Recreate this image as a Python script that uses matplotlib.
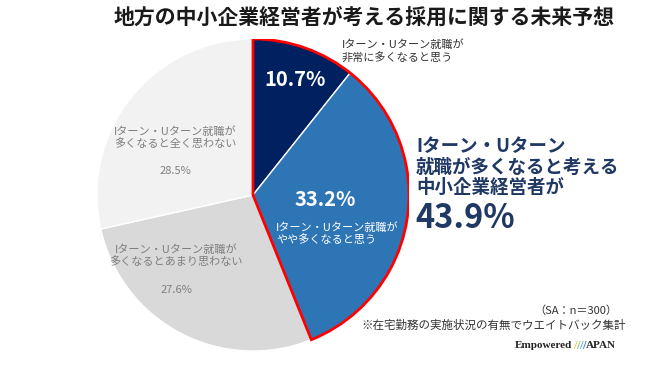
import matplotlib
matplotlib.use("Agg")
import matplotlib.pyplot as plt
from matplotlib.patches import Wedge

plt.rcParams['font.family'] = ['Noto Sans CJK JP', 'DejaVu Sans']

# ---- data ----
categories = [
    "Iターン・Uターン就職が\n非常に多くなると思う",
    "Iターン・Uターン就職が\nやや多くなると思う",
    "Iターン・Uターン就職が\n多くなるとあまり思わない",
    "Iターン・Uターン就職が\n多くなると全く思わない",
]
values = [10.7, 33.2, 27.6, 28.5]
colors = ["#002060", "#2E75B6", "#D9D9D9", "#F2F2F2"]
title = "地方の中小企業経営者が考える採用に関する未来予想"
summary_lines = ["Iターン・Uターン", "就職が多くなると考える", "中小企業経営者が"]
summary_value = values[0] + values[1]
note1 = "（SA：n＝300）"
note2 = "※在宅勤務の実施状況の有無でウエイトバック集計"

W, H = 650, 389
fig = plt.figure(figsize=(W / 100, H / 100), dpi=100)
fig.patch.set_facecolor("white")

def fx(px):
    return px / W

def fy(py):
    return 1 - py / H

# pie axes: centre (253,195), radius 156 px
cx, cy, r = 253, 195, 156
ax = fig.add_axes([fx(cx - r), fy(cy + r), 2 * r / W, 2 * r / H])
ax.pie(values, colors=colors, startangle=90, counterclock=False,
       radius=1, wedgeprops=dict(edgecolor="white", linewidth=1))
ax.set_xlim(-1, 1)
ax.set_ylim(-1, 1)
ax.set_aspect("auto")
ax.axis("off")

# red outline around the "多くなる" group
top = values[0] + values[1]
theta1 = 90 - top / 100 * 360
ax.add_patch(Wedge((0, 0), 1.0, theta1, 90, fill=False, edgecolor="#FF0000",
                   linewidth=2.0, zorder=5, joinstyle="miter"))

# title
fig.text(fx(364), fy(18), title, ha="center", va="center", fontsize=15,
         fontweight="bold", color="#1a1a1a")

# slice labels
fig.text(fx(295), fy(80), f"{values[0]:.1f}%", ha="center", va="center",
         fontsize=14.5, fontweight="bold", color="white")
fig.text(fx(342), fy(51), categories[0], ha="left", va="center",
         fontsize=8, color="#333333", linespacing=1.15)

fig.text(fx(325), fy(200), f"{values[1]:.1f}%", ha="center", va="center",
         fontsize=14.5, fontweight="bold", color="white")
fig.text(fx(276), fy(234), categories[1], ha="left", va="center",
         fontsize=8, color="white", linespacing=1.15)

fig.text(fx(176), fy(256), categories[2], ha="center", va="center",
         fontsize=8, color="#7F7F7F", linespacing=1.15)
fig.text(fx(176), fy(290), f"{values[2]:.1f}%", ha="center", va="center",
         fontsize=8, color="#7F7F7F")

fig.text(fx(175), fy(138), categories[3], ha="center", va="center",
         fontsize=8, color="#7F7F7F", linespacing=1.15)
fig.text(fx(175), fy(171), f"{values[3]:.1f}%", ha="center", va="center",
         fontsize=8, color="#7F7F7F")

# summary text on right
navy = "#1F3864"
for i, line in enumerate(summary_lines):
    fig.text(fx(416), fy(147 + 20 * i), line, ha="left", va="center",
             fontsize=13.3, fontweight="bold", color=navy)
fig.text(fx(415), fy(219), f"{summary_value:.1f}%", ha="left", va="center",
         fontsize=23.5, fontweight="bold", color=navy)

# notes
fig.text(fx(617), fy(311), note1, ha="right", va="center", fontsize=8,
         color="#333333")
fig.text(fx(626), fy(325), note2, ha="right", va="center", fontsize=8.3,
         color="#333333")

# logo
fig.text(fx(572), fy(346), "Empowered", ha="right", va="center",
         fontsize=8, fontweight="bold", family="Liberation Serif",
         color="#222222")
for i, c in enumerate(["#F2C14E", "#7BC96F", "#4AA3DF", "#2E75B6"]):
    fig.text(fx(575 + 3 * i), fy(346), "/", ha="center", va="center",
             fontsize=9, fontweight="bold", family="Liberation Serif", color=c)
fig.text(fx(586), fy(346), "APAN", ha="left", va="center",
         fontsize=8, fontweight="bold", family="Liberation Serif",
         color="#222222")

fig.savefig("out.png", dpi=100, facecolor="white")
